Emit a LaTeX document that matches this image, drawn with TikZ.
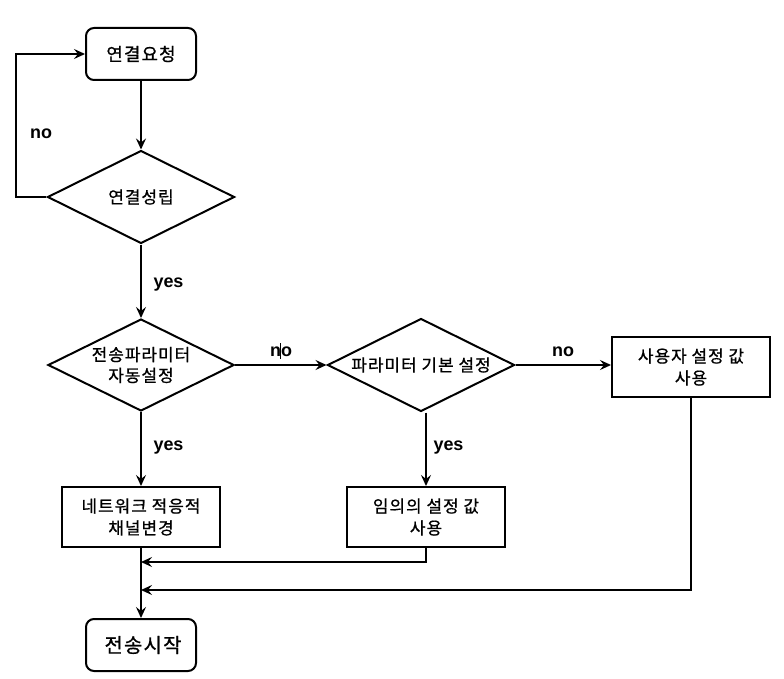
\documentclass[tikz,border=0pt]{standalone}
\usepackage{fontspec}
\setmainfont{Liberation Sans}
\newfontfamily\kor[FakeBold=0.8,LetterSpace=6]{Noto Sans CJK KR}
\usetikzlibrary{shapes.geometric,arrows.meta}
\tikzset{
  line/.style={line width=2bp,line join=miter},
  arr/.style={line, -{Stealth[length=11bp,width=10bp,inset=4bp]}},
  term/.style={draw,line width=2bp,rounded corners=8bp,minimum width=110bp,minimum height=52bp,inner sep=0pt,font=\kor\fontsize{18pt}{20pt}\selectfont},
  decide/.style={draw,diamond,line width=2bp,minimum width=187bp,minimum height=93bp,inner sep=0pt},
  dtext/.style={inner sep=0pt,align=center,font=\kor\fontsize{17pt}{21pt}\selectfont},
  procbox/.style={draw,rectangle,line width=2bp,minimum width=158bp,minimum height=60bp,inner sep=0pt,align=center,font=\kor\fontsize{17pt}{22pt}\selectfont},
  lbl/.style={font=\bfseries\fontsize{18pt}{20pt}\selectfont,inner sep=0pt}
}
\begin{document}
\begin{tikzpicture}[x=1bp,y=-1bp]
\useasboundingbox (0,0) rectangle (784,679);
\node[term] (req) at (141,54) {연결요청};
\node[decide] (d1) at (141,197) {};
\node[dtext] (t1) at (d1.center) {연결성립};
\node[decide,minimum width=186bp,minimum height=92bp] (d2) at (141,365) {};
\node[dtext] (t2) at (d2.center) {전송파라미터\\자동설정};
\node[decide] (d3) at (421,365) {};
\node[dtext] (t3) at (d3.center) {파라미터 기본 설정};
\node[procbox] (b3) at (691,367) {사용자 설정 값\\사용};
\node[procbox] (b1) at (141,517) {네트워크 적응적\\채널변경};
\node[procbox] (b2) at (426,517) {임의의 설정 값\\사용};
\node[term,font=\kor\fontsize{20pt}{22pt}\selectfont] (start) at (141,645) {\hspace*{4pt}전송시작};

\coordinate (m1) at (141,562);
\coordinate (m2) at (141,590);

\draw[arr] (req.south) -- (d1.north);
\draw[arr] (d1.west) -- ++(-30,0) |- (req.west);
\draw[arr] (d1.south) -- (d2.north);
\draw[arr] (d2.east) -- (d3.west);
\draw[arr] (d3.east) -- (d3.east -| b3.west);
\draw[arr] (d2.south) -- (b1.north);
\draw[arr] (d3.south -| b2.north) -- (b2.north);
\draw[arr] (b1.south) -- (start.north);
\draw[arr] (b2.south) |- (m1);
\draw[arr] (b3.south) |- (m2);

\node[lbl] (l1) at (41,134) {no};
\node[lbl] (l2) at (168.5,285) {yes};
\node[lbl] (l3) at (281,352) {no};
\node[lbl] (l4) at (563,352) {no};
\node[lbl] (l5) at (168.5,448) {yes};
\node[lbl] (l6) at (448.5,448) {yes};
\draw[line width=0.6bp] (280.7,343) -- (280.7,359);
\end{tikzpicture}
\end{document}
